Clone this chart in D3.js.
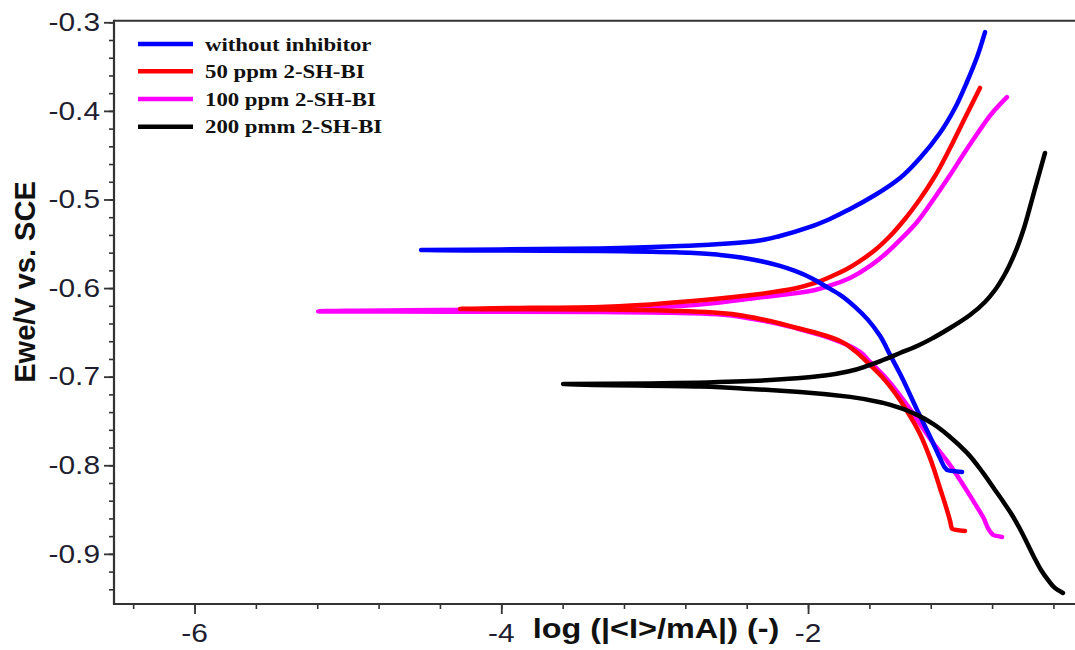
<!DOCTYPE html>
<html>
<head>
<meta charset="utf-8">
<script src="https://cdn.jsdelivr.net/npm/d3@7"></script>
<style>
  html, body { margin: 0; padding: 0; background: #fff; }
  svg { display: block; }
</style>
</head>
<body>
<svg id="chart" width="1075" height="650"></svg>
<script>
// Tafel polarization curves: log|I| (x) against potential E vs. SCE (y).
// Each series runs from the cathodic end up to Ecorr (the spike), then out along the anodic branch,
// so E rises monotonically along every series.

const seriesNames = ["without inhibitor", "50 ppm 2-SH-BI", "100 ppm 2-SH-BI", "200 pmm 2-SH-BI"];
const seriesColors = ["#0000ff", "#ff0000", "#ff00ff", "#000000"];

const blankLogI = [-0.996, -1.094, -1.140, -1.185, -1.289, -1.400, -1.465, -1.531, -1.609, -1.694, -1.791, -1.889, -1.967, -2.085, -2.183, -2.313, -2.398, -2.574, -2.834, -3.356, -4.008, -4.523,
                   -4.008, -3.356, -2.834, -2.574, -2.398, -2.280, -2.183, -1.987, -1.857, -1.726, -1.563, -1.400, -1.270, -1.140, -1.042, -0.964, -0.898, -0.846];
const blankE    = [-0.8076, -0.8053, -0.7918, -0.7748, -0.7375, -0.6968, -0.6754, -0.6539, -0.6359, -0.6212, -0.6077, -0.5976, -0.5897, -0.5807, -0.5750, -0.5694, -0.5666, -0.5626, -0.5598, -0.5581, -0.5576, -0.5570,
                   -0.5564, -0.5553, -0.5525, -0.5502, -0.5480, -0.5451, -0.5412, -0.5310, -0.5220, -0.5107, -0.4949, -0.4757, -0.4532, -0.4250, -0.3968, -0.3674, -0.3392, -0.3110];

const ppm50LogI = [-0.977, -1.061, -1.074, -1.140, -1.205, -1.270, -1.355, -1.433, -1.511, -1.596, -1.694, -1.791, -1.922, -2.072, -2.248, -2.398, -2.574, -2.834, -3.356, -4.269,
                   -3.356, -2.834, -2.398, -2.072, -1.954, -1.857, -1.759, -1.661, -1.563, -1.465, -1.368, -1.270, -1.172, -1.074, -0.977, -0.879];
const ppm50E    = [-0.8741, -0.8719, -0.8628, -0.8256, -0.7917, -0.7646, -0.7387, -0.7184, -0.7015, -0.6868, -0.6710, -0.6597, -0.6518, -0.6451, -0.6372, -0.6321, -0.6282, -0.6259, -0.6242, -0.6236,
                   -0.6213, -0.6157, -0.6084, -0.5999, -0.5942, -0.5875, -0.5796, -0.5694, -0.5570, -0.5412, -0.5220, -0.4994, -0.4735, -0.4419, -0.4080, -0.3741];

const ppm100LogI = [-0.735, -0.794, -0.859, -0.931, -1.009, -1.094, -1.185, -1.270, -1.355, -1.433, -1.511, -1.596, -1.661, -1.791, -1.922, -2.072, -2.248, -2.398, -2.574, -2.834, -3.356, -4.334, -5.194,
                    -4.418, -3.356, -2.834, -2.398, -2.072, -1.954, -1.844, -1.726, -1.615, -1.511, -1.400, -1.289, -1.185, -1.074, -0.977, -0.898, -0.794, -0.703];
const ppm100E    = [-0.8809, -0.8786, -0.8583, -0.8380, -0.8166, -0.7951, -0.7748, -0.7534, -0.7319, -0.7138, -0.6980, -0.6834, -0.6721, -0.6608, -0.6529, -0.6456, -0.6383, -0.6337, -0.6298, -0.6281, -0.6270, -0.6266, -0.6264,
                    -0.6247, -0.6242, -0.6202, -0.6123, -0.6055, -0.6021, -0.5965, -0.5886, -0.5773, -0.5638, -0.5457, -0.5254, -0.5006, -0.4724, -0.4464, -0.4261, -0.4012, -0.3844];

const ppm200LogI = [-0.338, -0.390, -0.435, -0.481, -0.527, -0.572, -0.618, -0.670, -0.722, -0.781, -0.859, -0.963, -1.074, -1.185, -1.289, -1.400, -1.511, -1.726, -2.052, -2.378, -2.704, -3.597,
                    -3.030, -2.378, -2.052, -1.889, -1.726, -1.615, -1.511, -1.400, -1.289, -1.185, -1.074, -0.944, -0.846, -0.781, -0.716, -0.651, -0.592, -0.546, -0.501, -0.455];
const ppm200E    = [-0.9441, -0.9385, -0.9295, -0.9182, -0.9035, -0.8877, -0.8719, -0.8561, -0.8425, -0.8279, -0.8086, -0.7860, -0.7680, -0.7533, -0.7431, -0.7352, -0.7296, -0.7228, -0.7172, -0.7138, -0.7110, -0.7082,
                    -0.7077, -0.7049, -0.7015, -0.6986, -0.6936, -0.6879, -0.6812, -0.6733, -0.6654, -0.6563, -0.6451, -0.6304, -0.6157, -0.6022, -0.5841, -0.5604, -0.5322, -0.5040, -0.4758, -0.4475];

const yTicks = [-0.3, -0.4, -0.5, -0.6, -0.7, -0.8, -0.9];
const yTickLabels = ["-0.3", "-0.4", "-0.5", "-0.6", "-0.7", "-0.8", "-0.9"];
const xMajorTicks = [-6, -4, -2, 0];
const xLabelTicks = [-6, -4, -2];
const xTickLabels = ["-6", "-4", "-2"];

const xTitle = "log (|<I>/mA|) (-)";
const yTitle = "Ewe/V vs. SCE";

const seriesX = [blankLogI, ppm50LogI, ppm100LogI, ppm200LogI];
const seriesY = [blankE, ppm50E, ppm100E, ppm200E];

const svg = d3.select("#chart");
const plotLeft = 114, plotTop = 20.7, plotBottom = 604, plotRight = 1114.8;

const x = d3.scaleLinear().domain([-6.525, 0]).range([plotLeft, plotRight]);
const y = d3.scaleLinear().domain([-0.9566, -0.2982]).range([plotBottom, plotTop]);

const axisColor = "#333";
const labelColor = "#1e1e30";

// top rule of the frame
svg.append("line").attr("x1", plotLeft).attr("x2", 1080).attr("y1", plotTop).attr("y2", plotTop)
  .attr("stroke", axisColor).attr("stroke-width", 2);

// minor and major ticks through d3 axes
const yMinor = d3.range(-0.94, -0.299, 0.02);
svg.append("g").attr("transform", `translate(${plotLeft},0)`)
  .call(d3.axisLeft(y).tickValues(yMinor).tickSize(5).tickFormat(""))
  .call(g => g.select(".domain").remove())
  .call(g => g.selectAll("line").attr("stroke", axisColor).attr("stroke-width", 1.6));
svg.append("g").attr("transform", `translate(${plotLeft},0)`)
  .call(d3.axisLeft(y).tickValues(yTicks).tickSize(10).tickFormat(""))
  .call(g => g.select(".domain").remove())
  .call(g => g.selectAll("line").attr("stroke", axisColor).attr("stroke-width", 1.8));

const xMinor = d3.range(-6.4, 0.01, 0.4);
svg.append("g").attr("transform", `translate(0,${plotBottom})`)
  .call(d3.axisBottom(x).tickValues(xMinor).tickSize(5).tickFormat(""))
  .call(g => g.select(".domain").remove())
  .call(g => g.selectAll("line").attr("stroke", axisColor).attr("stroke-width", 1.6));
svg.append("g").attr("transform", `translate(0,${plotBottom})`)
  .call(d3.axisBottom(x).tickValues(xMajorTicks).tickSize(10).tickFormat(""))
  .call(g => g.select(".domain").remove())
  .call(g => g.selectAll("line").attr("stroke", axisColor).attr("stroke-width", 1.8));

svg.append("line").attr("x1", plotLeft).attr("x2", plotLeft).attr("y1", plotTop - 1).attr("y2", plotBottom + 1)
  .attr("stroke", axisColor).attr("stroke-width", 2.2);
svg.append("line").attr("x1", plotLeft - 1).attr("x2", 1080).attr("y1", plotBottom).attr("y2", plotBottom)
  .attr("stroke", axisColor).attr("stroke-width", 2.2);

// tick labels (slightly wide sans)
yTicks.forEach((v, i) => {
  svg.append("text")
    .attr("transform", `translate(100,${y(v)}) scale(1.15,1)`)
    .attr("text-anchor", "end").attr("dominant-baseline", "central")
    .attr("font-family", "Liberation Sans, Arial, sans-serif").attr("font-size", 26)
    .attr("fill", labelColor).text(yTickLabels[i]);
});
xLabelTicks.forEach((v, i) => {
  svg.append("text")
    .attr("transform", `translate(${x(v)},642) scale(1.15,1)`)
    .attr("text-anchor", "middle")
    .attr("font-family", "Liberation Sans, Arial, sans-serif").attr("font-size", 26)
    .attr("fill", labelColor).text(xTickLabels[i]);
});

// axis titles
svg.append("text")
  .attr("transform", "translate(656,638) scale(1.2,1)")
  .attr("text-anchor", "middle")
  .attr("font-family", "Liberation Sans, Arial, sans-serif").attr("font-weight", "bold")
  .attr("font-size", 27).attr("fill", "#111").text(xTitle);
svg.append("text")
  .attr("transform", "translate(25,282) rotate(-90)")
  .attr("text-anchor", "middle").attr("dominant-baseline", "central")
  .attr("font-family", "Liberation Sans, Arial, sans-serif").attr("font-weight", "bold")
  .attr("font-size", 29).attr("fill", "#111").text(yTitle);

// curves: x is a smooth function of E along each series
const line = d3.line()
  .x(d => x(d[0])).y(d => y(d[1]))
  .curve(d3.curveMonotoneY);

const drawOrder = [2, 1, 0, 3];
drawOrder.forEach(k => {
  const pts = seriesX[k].map((v, i) => [v, seriesY[k][i]]);
  svg.append("path").datum(pts)
    .attr("d", line)
    .attr("fill", "none")
    .attr("stroke", seriesColors[k])
    .attr("stroke-width", 4.5)
    .attr("stroke-linejoin", "round")
    .attr("stroke-linecap", "round");
});

// legend
const legendY = [44, 71.3, 99, 126.7];
seriesNames.forEach((name, i) => {
  svg.append("line")
    .attr("x1", 138).attr("x2", 193).attr("y1", legendY[i]).attr("y2", legendY[i])
    .attr("stroke", seriesColors[i]).attr("stroke-width", 4.5);
  svg.append("text")
    .attr("transform", `translate(205,${legendY[i] + 6.5}) scale(1.2,1)`)
    .attr("font-family", "Liberation Serif, Times New Roman, serif").attr("font-weight", "bold")
    .attr("font-size", 19).attr("fill", "#111").text(name);
});
</script>
</body>
</html>
